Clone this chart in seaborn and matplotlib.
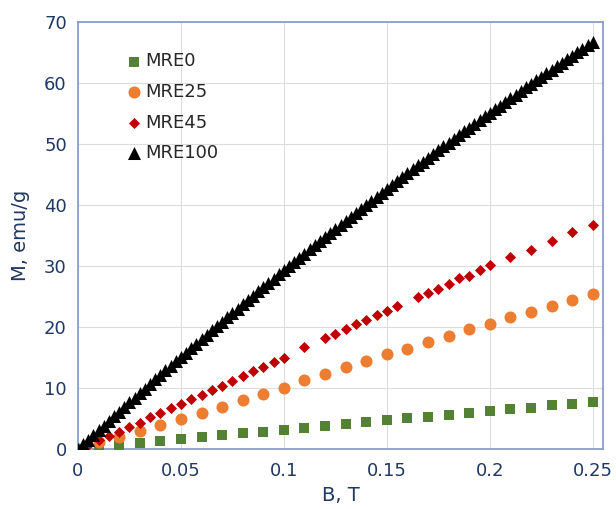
import pandas as pd
import seaborn as sns
import matplotlib.pyplot as plt

# magnetisation curves M(B) for the four MRE samples
b_mre0 = [0, 0.01, 0.02, 0.03, 0.04, 0.05, 0.06, 0.07, 0.08, 0.09, 0.10,
          0.11, 0.12, 0.13, 0.14, 0.15, 0.16, 0.17, 0.18, 0.19, 0.20,
          0.21, 0.22, 0.23, 0.24, 0.25]
m_mre0 = [0, 0.35, 0.7, 1.0, 1.35, 1.65, 1.95, 2.25, 2.55, 2.85, 3.1,
          3.5, 3.7, 4.1, 4.5, 4.8, 5.05, 5.3, 5.6, 5.95, 6.2,
          6.5, 6.8, 7.2, 7.35, 7.7]

b_mre25 = [0, 0.01, 0.02, 0.03, 0.04, 0.05, 0.06, 0.07, 0.08, 0.09, 0.10,
           0.11, 0.12, 0.13, 0.14, 0.15, 0.16, 0.17, 0.18, 0.19, 0.20,
           0.21, 0.22, 0.23, 0.24, 0.25]
m_mre25 = [0, 1.1, 2.05, 3.0, 3.95, 4.95, 5.95, 6.9, 8.1, 9.1, 10.05,
           11.25, 12.3, 13.5, 14.4, 15.5, 16.4, 17.5, 18.6, 19.6, 20.5,
           21.6, 22.5, 23.45, 24.4, 25.4]

b_mre45 = [0, 0.005, 0.01, 0.015, 0.02, 0.025, 0.03, 0.035, 0.04, 0.045, 0.05,
           0.055, 0.06, 0.065, 0.07, 0.075, 0.08, 0.085, 0.09, 0.095, 0.10,
           0.11, 0.12, 0.125, 0.13, 0.135, 0.14, 0.145, 0.15, 0.155,
           0.165, 0.17, 0.175, 0.18, 0.185, 0.19, 0.195, 0.20,
           0.21, 0.22, 0.23, 0.24, 0.25]
m_mre45 = [0, 0.7, 1.4, 2.15, 2.85, 3.6, 4.3, 5.2, 5.85, 6.65, 7.35,
           8.15, 8.8, 9.6, 10.3, 11.15, 11.9, 12.75, 13.5, 14.3, 15.0,
           16.65, 18.2, 18.8, 19.75, 20.5, 21.2, 21.9, 22.6, 23.45,
           24.9, 25.6, 26.3, 27.1, 28.0, 28.3, 29.4, 30.1,
           31.4, 32.7, 34.1, 35.5, 36.8]

b_mre100 = [0, 0.0025, 0.005, 0.0075, 0.01, 0.0125, 0.015, 0.0175, 0.02, 0.0225,
            0.025, 0.0275, 0.03, 0.0325, 0.035, 0.0375, 0.04, 0.0425, 0.045, 0.0475,
            0.05, 0.0525, 0.055, 0.0575, 0.06, 0.0625, 0.065, 0.0675, 0.07, 0.0725,
            0.075, 0.0775, 0.08, 0.0825, 0.085, 0.0875, 0.09, 0.0925, 0.095, 0.0975,
            0.10, 0.1025, 0.105, 0.1075, 0.11, 0.1125, 0.115, 0.1175, 0.12, 0.1225,
            0.125, 0.1275, 0.13, 0.1325, 0.135, 0.1375, 0.14, 0.1425, 0.145, 0.1475,
            0.15, 0.1525, 0.155, 0.1575, 0.16, 0.1625, 0.165, 0.1675, 0.17, 0.1725,
            0.175, 0.1775, 0.18, 0.1825, 0.185, 0.1875, 0.19, 0.1925, 0.195, 0.1975,
            0.20, 0.2025, 0.205, 0.2075, 0.21, 0.2125, 0.215, 0.2175, 0.22, 0.2225,
            0.225, 0.2275, 0.23, 0.2325, 0.235, 0.2375, 0.24, 0.2425, 0.245, 0.2475,
            0.25]
m_mre100 = [0, 0.78, 1.55, 2.32, 3.09, 3.85, 4.62, 5.38, 6.14, 6.90,
            7.65, 8.41, 9.16, 9.91, 10.65, 11.40, 12.14, 12.88, 13.62, 14.35,
            15.09, 15.82, 16.55, 17.28, 18.00, 18.72, 19.44, 20.16, 20.88, 21.59,
            22.30, 23.01, 23.72, 24.43, 25.13, 25.83, 26.53, 27.23, 27.92, 28.61,
            29.30, 29.99, 30.68, 31.36, 32.04, 32.72, 33.40, 34.07, 34.74, 35.41,
            36.08, 36.75, 37.41, 38.07, 38.73, 39.39, 40.05, 40.70, 41.35, 42.00,
            42.64, 43.29, 43.93, 44.57, 45.21, 45.84, 46.48, 47.11, 47.74, 48.36,
            48.99, 49.61, 50.23, 50.85, 51.46, 52.08, 52.69, 53.30, 53.90, 54.51,
            55.11, 55.71, 56.31, 56.91, 57.50, 58.09, 58.68, 59.27, 59.85, 60.44,
            61.02, 61.60, 62.17, 62.75, 63.32, 63.89, 64.46, 65.02, 65.59, 66.15,
            66.71]

x_ticks = [0, 0.05, 0.1, 0.15, 0.2, 0.25]
x_tick_labels = ['0', '0.05', '0.1', '0.15', '0.2', '0.25']
y_ticks = [0, 10, 20, 30, 40, 50, 60, 70]

series = [
    ('MRE0', b_mre0, m_mre0, 's', '#548235', 62),
    ('MRE25', b_mre25, m_mre25, 'o', '#ED7D31', 75),
    ('MRE45', b_mre45, m_mre45, 'D', '#C00000', 32),
    ('MRE100', b_mre100, m_mre100, '^', '#000000', 88),
]

navy = '#1F3864'
frame = '#8497C4'

sns.set_style('whitegrid', {'grid.color': '#DDDDDD', 'axes.edgecolor': frame})
plt.rcParams['font.family'] = ['DejaVu Sans']

fig = plt.figure(figsize=(6.16, 5.09), dpi=100)
ax = fig.add_axes([0.1266, 0.1178, 0.8524, 0.839])

for name, b, m, mk, col, size in series:
    df = pd.DataFrame({'B': b, 'M': m})
    sns.scatterplot(data=df, x='B', y='M', marker=mk, color=col, s=size,
                    linewidth=0, label=name, ax=ax, zorder=3)

ax.set_xlim(0, 0.255)
ax.set_ylim(0, 70)
ax.set_xticks(x_ticks)
ax.set_xticklabels(x_tick_labels)
ax.set_yticks(y_ticks)
ax.tick_params(axis='both', labelsize=13, colors=navy, length=0)
ax.tick_params(axis='x', pad=9)
ax.tick_params(axis='y', pad=8)
for sp in ax.spines.values():
    sp.set_color(frame)
    sp.set_linewidth(1.2)

ax.set_xlabel('B, T', fontsize=14, color=navy, labelpad=5)
ax.set_ylabel('M, emu/g', fontsize=14, color=navy, labelpad=10)

leg = ax.legend(loc='upper left', bbox_to_anchor=(0.08, 0.946), frameon=False,
                fontsize=13, labelspacing=0.7, handletextpad=0.2,
                handlelength=0.8, borderaxespad=0)
for t in leg.get_texts():
    t.set_color('#262626')

plt.savefig('out.png', dpi=100)
